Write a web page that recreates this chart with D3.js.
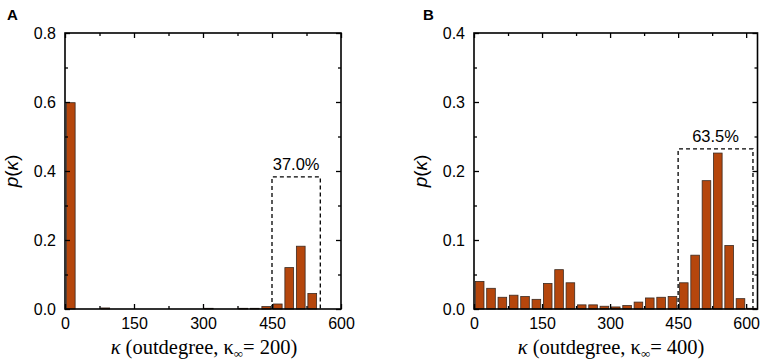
<!DOCTYPE html>
<html>
<head>
<meta charset="utf-8">
<script src="https://cdn.jsdelivr.net/npm/d3@7"></script>
<style>
  body { margin: 0; background: #fff; }
  svg { display: block; }
  .tick text { font-family: "Liberation Sans", Arial, sans-serif; font-size: 16px; fill: #000; }
</style>
</head>
<body>
<svg id="chart" width="765" height="363"></svg>
<script>
// bin centres (bins of width 25)
const binsA = [12.5, 37.5, 62.5, 87.5, 112.5, 137.5, 162.5, 187.5, 212.5, 237.5, 262.5, 287.5,
               312.5, 337.5, 362.5, 387.5, 412.5, 437.5, 462.5, 487.5, 512.5, 537.5, 562.5, 587.5];
const valuesA = [0.598, 0, 0, 0.003, 0, 0, 0, 0, 0, 0, 0, 0,
                 0.002, 0, 0, 0.002, 0.002, 0.007, 0.0145, 0.120, 0.182, 0.045, 0, 0];

const binsB = [12.5, 37.5, 62.5, 87.5, 112.5, 137.5, 162.5, 187.5, 212.5, 237.5, 262.5, 287.5,
               312.5, 337.5, 362.5, 387.5, 412.5, 437.5, 462.5, 487.5, 512.5, 537.5, 562.5, 587.5, 612.5];
const valuesB = [0.040, 0.030, 0.017, 0.020, 0.018, 0.014, 0.037, 0.057, 0.038, 0.006, 0.006, 0.004,
                 0.003, 0.005, 0.010, 0.016, 0.017, 0.018, 0.038, 0.078, 0.186, 0.226, 0.092, 0.015, 0.001];

const xTicks = [0, 150, 300, 450, 600];
const xMinor = [75, 225, 375, 525];
const yTicksA = [0, 0.2, 0.4, 0.6, 0.8];
const yMinorA = [0.1, 0.3, 0.5, 0.7];
const yTicksB = [0, 0.1, 0.2, 0.3, 0.4];
const yMinorB = [0.05, 0.15, 0.25, 0.35];

const boxA = { x0: 450, x1: 555, top: 0.383, label: "37.0%" };
const boxB = { x0: 450, x1: 615, top: 0.232, label: "63.5%" };

const svg = d3.select("#chart");
const barFill = "#b5460c";

function panel(o) {
  const x = d3.scaleLinear().domain(o.xDomain).range([o.left, o.right]);
  const y = d3.scaleLinear().domain(o.yDomain).range([o.bottom, o.top]);
  const g = svg.append("g");
  const bw = (x(25) - x(0)) * 0.76;

  // bars
  g.selectAll("rect.bar")
    .data(o.bins.map((b, i) => ({ b, v: o.values[i] })).filter(d => d.v > 0))
    .enter().append("rect")
    .attr("class", "bar")
    .attr("x", d => x(d.b) - bw / 2)
    .attr("width", bw)
    .attr("y", d => y(d.v))
    .attr("height", d => y(0) - y(d.v))
    .attr("fill", barFill)
    .attr("stroke", "#3b2a20")
    .attr("stroke-width", 0.8);

  // dashed box
  g.append("path")
    .attr("d", `M${x(o.box.x0)},${y(0)}V${y(o.box.top)}H${x(o.box.x1)}V${y(0)}`)
    .attr("fill", "none")
    .attr("stroke", "#000")
    .attr("stroke-width", 1.3)
    .attr("stroke-dasharray", "4,3");
  g.append("text")
    .attr("x", (x(o.box.x0) + x(o.box.x1)) / 2)
    .attr("y", y(o.box.top) - 7)
    .attr("text-anchor", "middle")
    .style("font-family", "'Liberation Sans', Arial, sans-serif")
    .style("font-size", "16.5px")
    .text(o.box.label);

  // axes (ticks inside, mirrored)
  const fmt = d3.format(".1f");
  g.append("g").attr("transform", `translate(0,${o.bottom})`)
    .call(d3.axisBottom(x).tickValues(xTicks).tickSize(-5).tickSizeOuter(0).tickPadding(9));
  g.append("g").attr("transform", `translate(0,${o.bottom})`)
    .call(d3.axisBottom(x).tickValues(xMinor).tickSize(-3).tickFormat(""));
  g.append("g").attr("transform", `translate(0,${o.top})`)
    .call(d3.axisTop(x).tickValues(xTicks).tickSize(-5).tickFormat(""));
  g.append("g").attr("transform", `translate(0,${o.top})`)
    .call(d3.axisTop(x).tickValues(xMinor).tickSize(-3).tickFormat(""));
  g.append("g").attr("transform", `translate(${o.left},0)`)
    .call(d3.axisLeft(y).tickValues(o.yTicks).tickSize(-5).tickSizeOuter(0).tickPadding(9).tickFormat(fmt));
  g.append("g").attr("transform", `translate(${o.left},0)`)
    .call(d3.axisLeft(y).tickValues(o.yMinor).tickSize(-3).tickFormat(""));
  g.append("g").attr("transform", `translate(${o.right},0)`)
    .call(d3.axisRight(y).tickValues(o.yTicks).tickSize(-5).tickFormat(""));
  g.append("g").attr("transform", `translate(${o.right},0)`)
    .call(d3.axisRight(y).tickValues(o.yMinor).tickSize(-3).tickFormat(""));
  g.selectAll(".domain").remove();
  g.selectAll(".tick line").attr("stroke", "#000").attr("stroke-width", 1.3);

  g.append("rect")
    .attr("x", o.left).attr("y", o.top)
    .attr("width", o.right - o.left).attr("height", o.bottom - o.top)
    .attr("fill", "none").attr("stroke", "#000").attr("stroke-width", 1.6);

  // panel letter
  g.append("text")
    .attr("x", o.letterX).attr("y", 20)
    .style("font-family", "'Liberation Sans', Arial, sans-serif")
    .style("font-size", "15px").style("font-weight", "bold")
    .text(o.letter);

  // y title
  const yt = g.append("text")
    .attr("transform", `translate(${o.left - 47},${(o.top + o.bottom) / 2}) rotate(-90)`)
    .attr("text-anchor", "middle")
    .style("font-family", "'Liberation Sans', Arial, sans-serif")
    .style("font-size", "19px");
  yt.append("tspan").style("font-style", "italic").text("p");
  yt.append("tspan").text("(");
  yt.append("tspan").style("font-style", "italic").text("κ");
  yt.append("tspan").text(")");

  // x title
  const xt = g.append("text")
    .attr("x", (x(0) + x(600)) / 2 + 1)
    .attr("y", 354)
    .attr("text-anchor", "middle")
    .style("font-family", "'Liberation Serif', 'Times New Roman', serif")
    .style("font-size", "20.5px");
  xt.append("tspan").style("font-style", "italic").text("κ");
  xt.append("tspan").text(" (outdegree, κ");
  xt.append("tspan").attr("dy", 4).style("font-size", "13px").text("∞");
  xt.append("tspan").attr("dy", -4).text("= " + o.kInf + ")");
}

panel({
  left: 65, right: 341, top: 33, bottom: 309,
  xDomain: [0, 600], yDomain: [0, 0.8],
  bins: binsA, values: valuesA, yTicks: yTicksA, yMinor: yMinorA,
  box: boxA, letter: "A", letterX: 7, kInf: 200
});

panel({
  left: 474, right: 757.5, top: 33, bottom: 309,
  xDomain: [0, 625], yDomain: [0, 0.4],
  bins: binsB, values: valuesB, yTicks: yTicksB, yMinor: yMinorB,
  box: boxB, letter: "B", letterX: 423, kInf: 400
});
</script>
</body>
</html>
